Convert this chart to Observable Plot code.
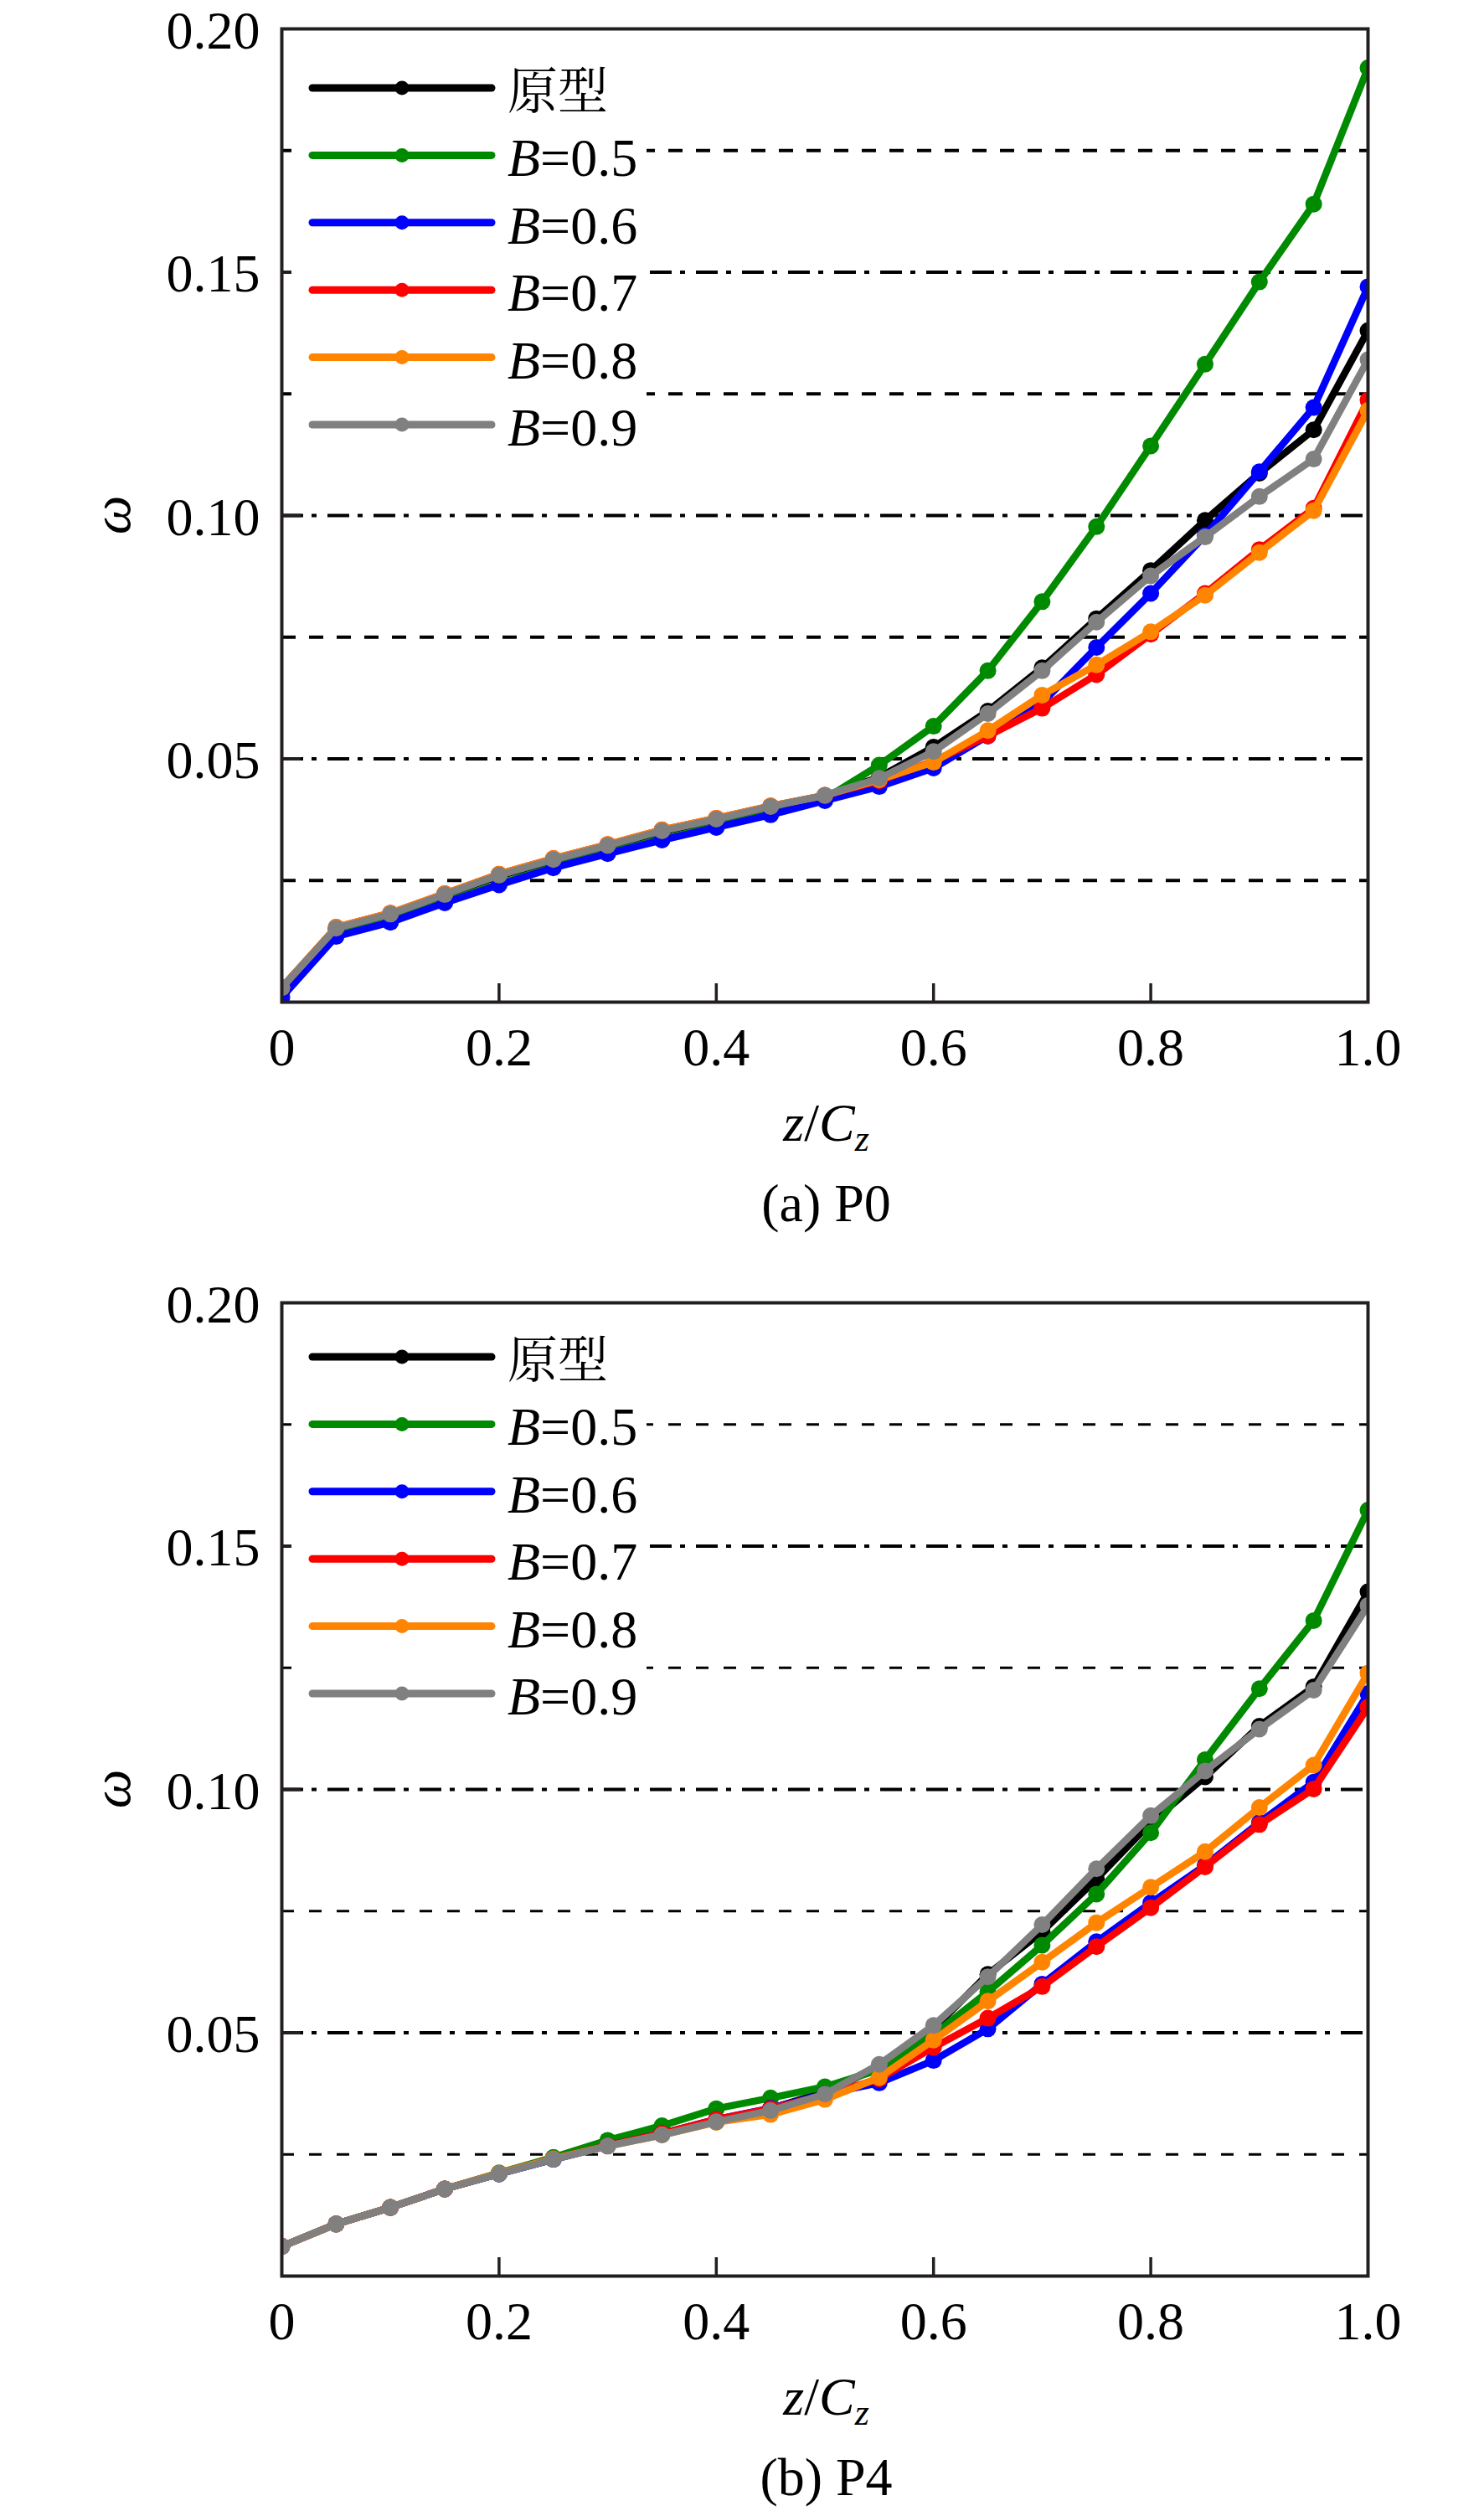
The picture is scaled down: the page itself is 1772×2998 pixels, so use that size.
<!DOCTYPE html>
<html><head><meta charset="utf-8">
<script src="https://cdn.jsdelivr.net/npm/d3@7"></script>
<script src="https://cdn.jsdelivr.net/npm/@observablehq/plot@0.6"></script>
<style>
body{margin:0;background:#fff}
#root{position:relative;width:1772px;height:2998px;background:#fff;overflow:hidden}
.panel{position:absolute;left:0}
#overlay{position:absolute;left:0;top:0;pointer-events:none}
</style></head><body><div id="root"></div>
<script>
// ---- data ----
const zc = [0,0.05,0.1,0.15,0.2,0.25,0.3,0.35,0.4,0.45,0.5,0.55,0.6,0.65,0.7,0.75,0.8,0.85,0.9,0.95,1.0];
const seriesNames = ["原型","B=0.5","B=0.6","B=0.7","B=0.8","B=0.9"];
const seriesColors = ["#000000","#008a00","#0000ff","#ff0000","#ff8500","#808080"];

// (a) P0
const p0_proto = [0.003,0.0150,0.0180,0.0220,0.0259,0.0291,0.0320,0.0350,0.0374,0.0400,0.0424,0.0462,0.0524,0.0598,0.0687,0.0788,0.0887,0.0990,0.1087,0.1176,0.138];
const p0_b05   = [0.002,0.0138,0.0166,0.0206,0.0243,0.0278,0.0307,0.0335,0.0361,0.0387,0.0418,0.0487,0.0567,0.0681,0.0823,0.0977,0.1143,0.1311,0.148,0.164,0.192];
const p0_b06   = [0.001,0.0135,0.0164,0.0204,0.0241,0.0276,0.0305,0.0333,0.0359,0.0385,0.0414,0.0443,0.0481,0.0547,0.0615,0.0729,0.0840,0.0959,0.109,0.1222,0.147];
const p0_b07   = [0.003,0.0154,0.0183,0.0223,0.0263,0.0295,0.0324,0.0354,0.0378,0.0403,0.0425,0.0455,0.0495,0.0547,0.0604,0.0673,0.0756,0.0840,0.0930,0.1015,0.1237];
const p0_b08   = [0.003,0.0154,0.0183,0.0223,0.0263,0.0295,0.0324,0.0354,0.0378,0.0403,0.0425,0.0457,0.0493,0.0558,0.0631,0.0693,0.0761,0.0836,0.0924,0.1010,0.1216];
const p0_b09   = [0.003,0.0152,0.0181,0.0221,0.0261,0.0293,0.0322,0.0352,0.0376,0.0402,0.0425,0.0460,0.0515,0.0593,0.0681,0.0781,0.0876,0.0956,0.1039,0.1116,0.132];

// (b) P4
const p4_proto = [0.0061,0.0107,0.0141,0.0179,0.0210,0.0240,0.0268,0.0292,0.0320,0.0344,0.0378,0.0430,0.0508,0.0620,0.0708,0.0816,0.0932,0.1026,0.1130,0.1211,0.1406];
const p4_b05   = [0.0061,0.0107,0.0141,0.0179,0.0212,0.0244,0.0279,0.0309,0.0344,0.0366,0.0389,0.0424,0.0496,0.0584,0.0680,0.0785,0.0911,0.1061,0.1207,0.1347,0.1574];
const p4_b06   = [0.0061,0.0107,0.0141,0.0179,0.0210,0.0240,0.0268,0.0293,0.0322,0.0345,0.0374,0.0397,0.0443,0.0508,0.0600,0.0687,0.0767,0.0844,0.0932,0.1015,0.1197];
const p4_b07   = [0.0061,0.0107,0.0141,0.0179,0.0211,0.0241,0.0268,0.0293,0.0322,0.0344,0.0372,0.0405,0.0470,0.0530,0.0595,0.0677,0.0757,0.0841,0.0928,0.1001,0.1169];
const p4_b08   = [0.0061,0.0107,0.0141,0.0179,0.0211,0.0241,0.0267,0.0290,0.0316,0.0332,0.0363,0.0408,0.0485,0.0565,0.0645,0.0726,0.0799,0.0872,0.0963,0.1050,0.1239];
const p4_b09   = [0.0061,0.0107,0.0141,0.0179,0.0210,0.0240,0.0267,0.0290,0.0317,0.0340,0.0374,0.0435,0.0515,0.0615,0.0722,0.0837,0.0946,0.1038,0.1124,0.1204,0.1378];

// ticks & reference levels
const xTicks = [0,0.2,0.4,0.6,0.8,1.0];
const xInnerTicks = [0.2,0.4,0.6,0.8];
const yTicks = [0.05,0.10,0.15,0.20];
const yInnerTicks = [0.05,0.10,0.15];
const dashLevels = [0.025,0.075,0.125,0.175];
const dashDotLevels = [0.05,0.10,0.15];
const captions = ["(a) P0","(b) P4"];

// ---- layout ----
const W = 1772, mL = 336, mR = 139, mT = 34, mB = 94, H = 1290;
const plotW = W - mL - mR, plotH = H - mT - mB;
const FONT = "'Liberation Serif','Times New Roman','Noto Serif CJK SC','Noto Sans CJK SC',serif";
const CJK = "'Noto Serif CJK SC','Noto Sans CJK SC',serif";
const AX = "#231f20";

const root = document.getElementById("root");

function makePanel(values, top, dashCfg) {
  const rows = [];
  seriesNames.forEach((s, i) => values[i].forEach((v, j) => rows.push({z: zc[j], w: v, s})));
  const marks = [
    Plot.ruleY(dashLevels, {y: d => d, stroke: "#000", strokeWidth: dashCfg.w, strokeDasharray: dashCfg.dash}),
    Plot.ruleY(dashDotLevels, {y: d => d, stroke: "#000", strokeWidth: 4, strokeDasharray: "26,10,6,13"})
  ];
  seriesNames.forEach((s, i) => {
    const d = rows.filter(r => r.s === s);
    marks.push(Plot.line(d, {x: "z", y: "w", stroke: seriesColors[i], strokeWidth: 8.5, strokeLinejoin: "round", clip: true}));
    marks.push(Plot.dot(d, {x: "z", y: "w", r: 10, fill: seriesColors[i], stroke: "none", clip: true}));
  });
  marks.push(Plot.tickX(xInnerTicks, {x: d => d, stroke: AX, strokeWidth: 3.5, insetTop: plotH - 22}));
  marks.push(Plot.tickY(yInnerTicks, {y: d => d, stroke: AX, strokeWidth: 4, insetRight: plotW - 23}));
  marks.push(Plot.axisX(xTicks, {tickSize: 0, tickPadding: 30, tickFormat: d => d === 0 ? "0" : d.toFixed(1), label: null}));
  marks.push(Plot.axisY(yTicks, {tickSize: 0, tickPadding: 26, dy: 3, tickFormat: d => d.toFixed(2), label: null}));
  marks.push(Plot.frame({stroke: AX, strokeWidth: 4}));

  const svg = Plot.plot({
    width: W, height: H,
    marginLeft: mL, marginRight: mR, marginTop: mT, marginBottom: mB,
    x: {domain: [0, 1]},
    y: {domain: [0, 0.2]},
    style: {fontFamily: FONT, fontSize: "64px", color: "#000", background: "transparent", overflow: "visible"},
    marks
  });
  svg.classList.add("panel");
  svg.style.top = top + "px";
  root.appendChild(svg);
}

const panelTops = [0, 1521];
makePanel([p0_proto, p0_b05, p0_b06, p0_b07, p0_b08, p0_b09], panelTops[0], {w: 4, dash: "17,16"});
makePanel([p4_proto, p4_b05, p4_b06, p4_b07, p4_b08, p4_b09], panelTops[1], {w: 3, dash: "15,18"});

// ---- overlay: legends, axis titles, captions ----
const ov = d3.select(root).append("svg").attr("id", "overlay").attr("width", W).attr("height", 2998)
  .style("font-family", FONT);

const legendFirstRow = [71, 65]; // offset of first legend row below plot top
panelTops.forEach((pt, k) => {
  const plotTop = pt + mT, plotBottom = pt + mT + plotH;
  const r0 = plotTop + legendFirstRow[k];
  const step = 80.4;
  ov.append("rect").attr("x", 348).attr("y", r0 - 45).attr("width", 424).attr("height", step * 5 + 90).attr("fill", "#fff");
  seriesNames.forEach((s, i) => {
    const y = r0 + i * step;
    ov.append("line").attr("x1", 373).attr("x2", 587).attr("y1", y).attr("y2", y)
      .attr("stroke", seriesColors[i]).attr("stroke-width", 9).attr("stroke-linecap", "round");
    ov.append("circle").attr("cx", 480).attr("cy", y).attr("r", 8.5).attr("fill", seriesColors[i]);
    const t = ov.append("text").attr("x", 606).attr("y", y + 25).attr("font-size", 64).attr("fill", "#000");
    if (s.startsWith("B=")) {
      t.append("tspan").attr("font-style", "italic").text("B");
      t.append("tspan").text(s.slice(1));
    } else {
      t.attr("font-family", CJK).attr("font-size", 60).text(s);
    }
  });
  // y title
  const cy = (plotTop + plotBottom) / 2;
  ov.append("text").attr("transform", `translate(155,${cy}) rotate(-90)`).attr("text-anchor", "middle")
    .attr("font-size", 66).attr("font-style", "italic").text("ω");
  // x title z/C_z
  const xt = ov.append("text").attr("x", mL + plotW / 2 + 2).attr("y", plotBottom + 166).attr("text-anchor", "middle").attr("font-size", 64);
  xt.append("tspan").attr("font-style", "italic").text("z");
  xt.append("tspan").text("/");
  xt.append("tspan").attr("font-style", "italic").text("C");
  xt.append("tspan").attr("font-style", "italic").attr("font-size", 44).attr("dy", 12).text("z");
  // caption
  ov.append("text").attr("x", mL + plotW / 2 + 2).attr("y", plotBottom + 262).attr("text-anchor", "middle")
    .attr("font-size", 64).text(captions[k]);
});
</script></body></html>
